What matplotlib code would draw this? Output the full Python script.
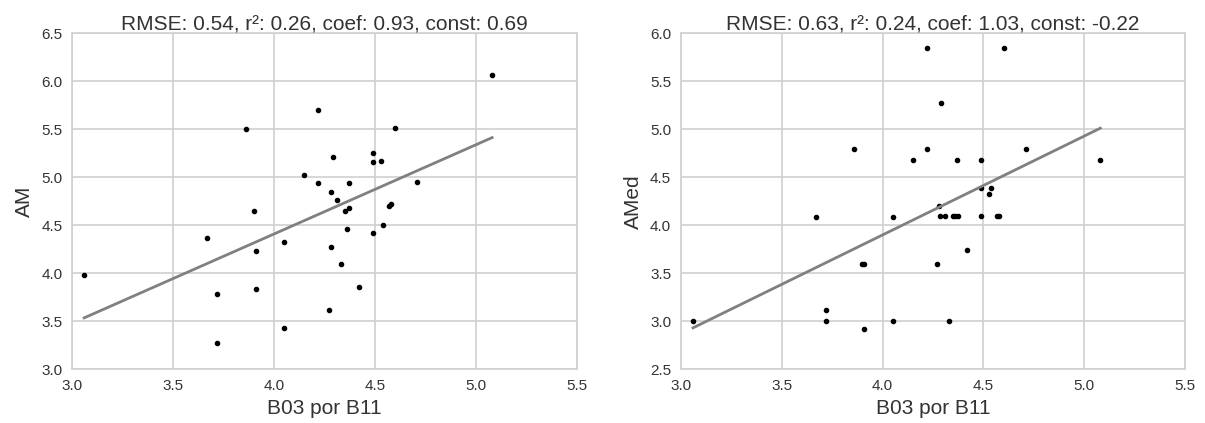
import matplotlib
matplotlib.use('Agg')
import matplotlib.pyplot as plt
import numpy as np

# B03 / B11 ratio (same samples on both panels)
b03_b11 = [3.06, 3.67, 3.72, 3.72, 3.86, 3.90, 3.91, 3.91, 4.05, 4.05,
           4.15, 4.22, 4.22, 4.27, 4.28, 4.28, 4.29, 4.31, 4.33, 4.35,
           4.36, 4.37, 4.37, 4.42, 4.49, 4.49, 4.49, 4.53, 4.54, 4.57,
           4.58, 4.60, 4.71, 5.08]
am = [3.98, 4.37, 3.78, 3.27, 5.50, 4.65, 4.23, 3.84, 4.33, 3.43,
      5.02, 5.70, 4.94, 3.62, 4.85, 4.27, 5.21, 4.76, 4.10, 4.65,
      4.46, 4.94, 4.68, 3.86, 5.25, 5.16, 4.42, 5.17, 4.50, 4.70,
      4.72, 5.51, 4.95, 6.07]
# x for the second panel, read separately
b03_b11_med = [3.06, 3.67, 3.72, 3.72, 3.86, 3.90, 3.91, 3.91, 4.05, 4.05,
               4.15, 4.22, 4.22, 4.27, 4.285, 4.28, 4.29, 4.311, 4.33, 4.348,
               4.361, 4.374, 4.37, 4.42, 4.49, 4.488, 4.49, 4.53, 4.54, 4.566,
               4.579, 4.60, 4.71, 5.08]
amed = [3.00, 4.09, 3.12, 3.00, 4.80, 3.60, 3.60, 2.92, 4.09, 3.00,
        4.68, 5.85, 4.80, 3.60, 4.10, 4.20, 5.27, 4.10, 3.00, 4.10,
        4.10, 4.10, 4.68, 3.74, 4.68, 4.10, 4.39, 4.33, 4.39, 4.10,
        4.10, 5.85, 4.80, 4.68]

fits = [
    dict(rmse=0.54, r2=0.26, coef=0.93, const=0.69),
    dict(rmse=0.63, r2=0.24, coef=1.03, const=-0.22),
]
ylabels = ['AM', 'AMed']
ylims = [(3.0, 6.5), (2.5, 6.0)]

plt.rcParams['font.family'] = ['Liberation Sans', 'DejaVu Sans']
txt = '#333333'
grid_c = '#d0d0d0'

fig = plt.figure(figsize=(12.05, 4.23), dpi=100)
ax1 = fig.add_axes([0.0598, 0.127, 0.419, 0.794])
ax2 = fig.add_axes([0.5651, 0.127, 0.4183, 0.794])

panels = [(ax1, b03_b11, am), (ax2, b03_b11_med, amed)]
for i, (ax, x, y) in enumerate(panels):
    f = fits[i]
    ax.plot(x, y, 'o', color='black', markersize=3, zorder=3)
    xl = np.array([min(x), max(x)])
    ax.plot(xl, f['coef'] * xl + f['const'], color='#808080', lw=2, zorder=4)

    ax.set_xlim(3.0, 5.5)
    ax.set_ylim(*ylims[i])
    ax.set_xticks(np.arange(3.0, 5.51, 0.5))
    ax.set_yticks(np.arange(ylims[i][0], ylims[i][1] + 0.01, 0.5))
    ax.set_xticklabels(['%.1f' % v for v in ax.get_xticks()])
    ax.set_yticklabels(['%.1f' % v for v in ax.get_yticks()])
    ax.grid(True, color=grid_c, lw=1.2)
    ax.set_axisbelow(True)
    for s in ax.spines.values():
        s.set_color(grid_c)
        s.set_linewidth(1.2)
    ax.tick_params(length=0, labelsize=11, labelcolor=txt, pad=7)
    ax.set_xlabel('B03 por B11', fontsize=15, color=txt, labelpad=4)
    ax.set_ylabel(ylabels[i], fontsize=15, color=txt, labelpad=5)
    ax.set_title('RMSE: %.2f, r\u00b2: %.2f, coef: %.2f, const: %.2f'
                 % (f['rmse'], f['r2'], f['coef'], f['const']),
                 fontsize=15, color=txt, pad=3)

fig.savefig('out.png', dpi=100)
